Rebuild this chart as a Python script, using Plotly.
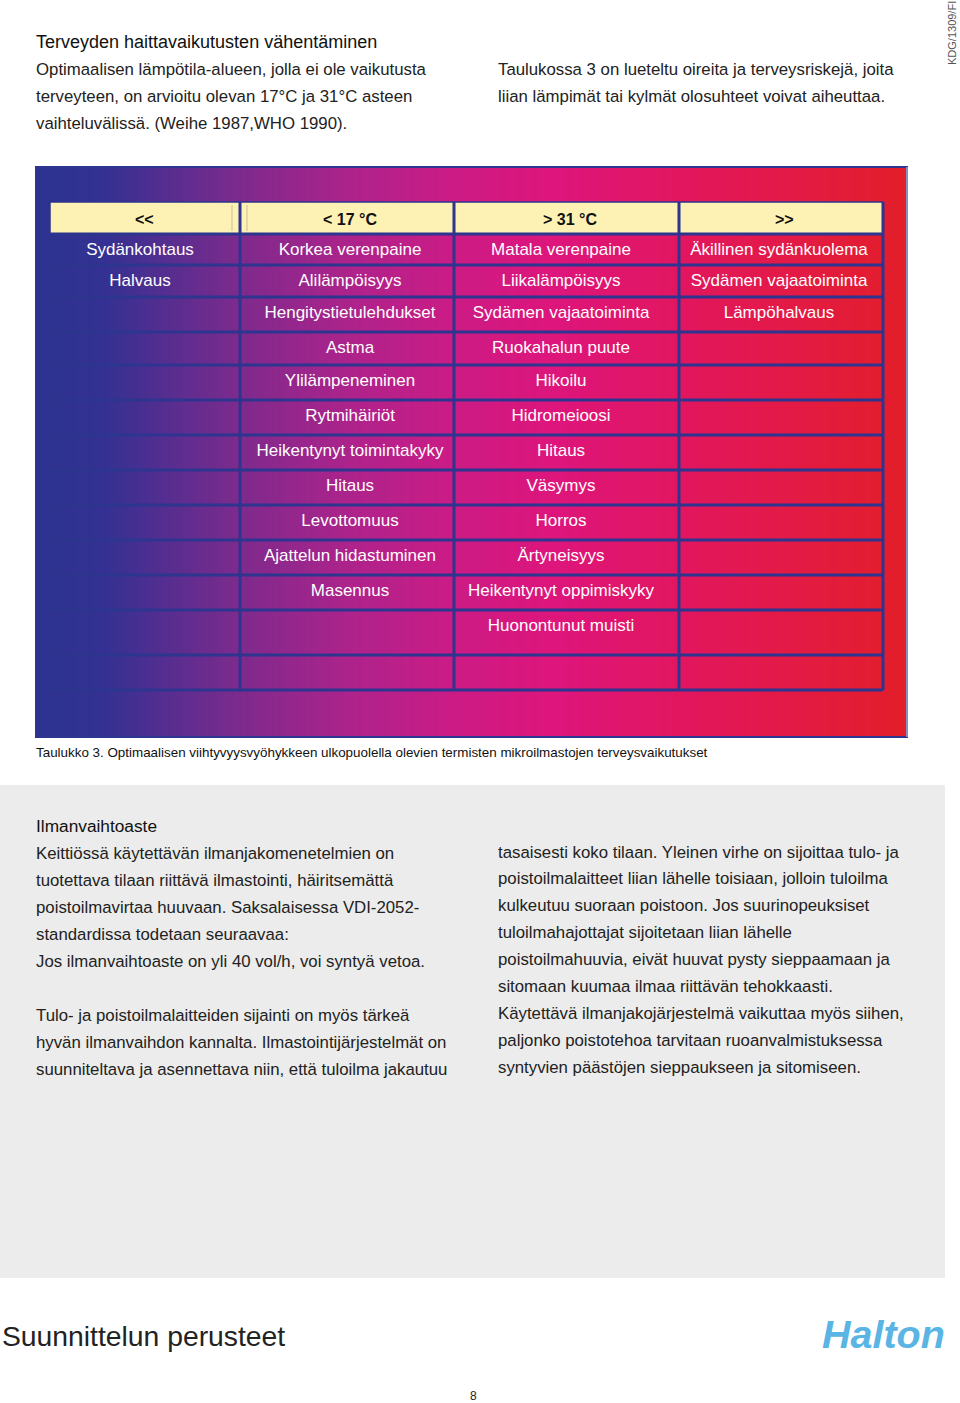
import numpy as np
import plotly.graph_objects as go

# ---------------- data ----------------
headers = ["<<", "< 17 °C", "> 31 °C", ">>"]
col_extreme_cold = ["Sydänkohtaus", "Halvaus"]
col_cold = ["Korkea verenpaine", "Alilämpöisyys", "Hengitystietulehdukset", "Astma",
            "Ylilämpeneminen", "Rytmihäiriöt", "Heikentynyt toimintakyky", "Hitaus",
            "Levottomuus", "Ajattelun hidastuminen", "Masennus"]
col_hot = ["Matala verenpaine", "Liikalämpöisyys", "Sydämen vajaatoiminta", "Ruokahalun puute",
           "Hikoilu", "Hidromeioosi", "Hitaus", "Väsymys", "Horros", "Ärtyneisyys",
           "Heikentynyt oppimiskyky", "Huonontunut muisti"]
col_extreme_hot = ["Äkillinen sydänkuolema", "Sydämen vajaatoiminta", "Lämpöhalvaus"]
columns = [col_extreme_cold, col_cold, col_hot, col_extreme_hot]

top_heading = "Terveyden haittavaikutusten vähentäminen"
top_left_lines = ["Optimaalisen lämpötila-alueen, jolla ei ole vaikutusta",
                  "terveyteen, on arvioitu olevan 17°C ja 31°C asteen",
                  "vaihteluvälissä. (Weihe 1987,WHO 1990)."]
top_right_lines = ["Taulukossa 3 on lueteltu oireita ja terveysriskejä, joita",
                   "liian lämpimät tai kylmät olosuhteet voivat aiheuttaa."]
caption = ("Taulukko 3. Optimaalisen viihtyvyysvyöhykkeen ulkopuolella olevien termisten "
           "mikroilmastojen terveysvaikutukset")
box_heading = "Ilmanvaihtoaste"
box_left_lines = ["Keittiössä käytettävän ilmanjakomenetelmien on",
                  "tuotettava tilaan riittävä ilmastointi, häiritsemättä",
                  "poistoilmavirtaa huuvaan. Saksalaisessa VDI-2052-",
                  "standardissa todetaan seuraavaa:",
                  "Jos ilmanvaihtoaste on yli 40 vol/h, voi syntyä vetoa.",
                  "",
                  "Tulo- ja poistoilmalaitteiden sijainti on myös tärkeä",
                  "hyvän ilmanvaihdon kannalta. Ilmastointijärjestelmät on",
                  "suunniteltava ja asennettava niin, että tuloilma jakautuu"]
box_right_lines = ["tasaisesti koko tilaan. Yleinen virhe on sijoittaa tulo- ja",
                   "poistoilmalaitteet liian lähelle toisiaan, jolloin tuloilma",
                   "kulkeutuu suoraan poistoon. Jos suurinopeuksiset",
                   "tuloilmahajottajat sijoitetaan liian lähelle",
                   "poistoilmahuuvia, eivät huuvat pysty sieppaamaan ja",
                   "sitomaan kuumaa ilmaa riittävän tehokkaasti.",
                   "Käytettävä ilmanjakojärjestelmä vaikuttaa myös siihen,",
                   "paljonko poistotehoa tarvitaan ruoanvalmistuksessa",
                   "syntyvien päästöjen sieppaukseen ja sitomiseen."]
footer_title = "Suunnittelun perusteet"
logo_text = "Halton"
page_number = "8"
doc_code = "KDG/1309/FI"

# ---------------- layout constants ----------------
W, H = 960, 1403
FONT = "Liberation Sans, Arial, sans-serif"
NAVY = "#2d358f"
YELLOW = "#fdf1b3"
table_x = (36, 907)
table_y = (167, 737)
col_edges = [50, 240, 454, 679, 883]
col_text_x = [140, 350, 561, 779]
header_y = (202, 234)
row_edges = [234, 265, 297, 332, 365, 400, 435, 470, 505, 540, 575, 610, 655, 690]

grad_stops = [(0.00, "#2c3390"), (0.08, "#343192"), (0.23, "#7c2a8d"), (0.36, "#ad238b"),
              (0.48, "#cc1b85"), (0.60, "#de157b"), (0.74, "#e2165f"), (0.87, "#e31a45"),
              (1.00, "#e31e28")]

fig = go.Figure()

# gradient background of the table (heatmap on the x scale)
edges = np.linspace(table_x[0], table_x[1], 351)
centers = (edges[:-1] + edges[1:]) / 2
tnorm = (centers - table_x[0]) / (table_x[1] - table_x[0])
fig.add_trace(go.Heatmap(x=edges, y=list(table_y), z=[tnorm], colorscale=[[a, c] for a, c in grad_stops],
                         zmin=0, zmax=1, showscale=False, hoverinfo="skip"))

# cell texts
for ci, col in enumerate(columns):
    ys = [row_edges[i] + 16.5 for i in range(len(col))]
    fig.add_trace(go.Scatter(x=[col_text_x[ci]] * len(col), y=ys, text=col, mode="text",
                             textposition="middle center", hoverinfo="skip",
                             textfont=dict(family=FONT, size=17, color="white")))

shapes = []
# grey box
shapes.append(dict(type="rect", x0=0, x1=945, y0=785, y1=1278, fillcolor="#ebeceb",
                   line=dict(width=0), layer="below"))
# table outline
shapes.append(dict(type="rect", x0=table_x[0], x1=table_x[1], y0=table_y[0], y1=table_y[1],
                   line=dict(color=NAVY, width=2), layer="above"))
shapes.append(dict(type="line", x0=table_x[1], x1=table_x[1], y0=table_y[0], y1=table_y[1],
                   line=dict(color="#9fb3dc", width=1.5), layer="above"))
# header yellow band
shapes.append(dict(type="rect", x0=col_edges[0], x1=col_edges[-1], y0=header_y[0], y1=header_y[1],
                   fillcolor=YELLOW, line=dict(color=NAVY, width=1.5), layer="above"))
for xs in (232, 247):
    shapes.append(dict(type="line", x0=xs, x1=xs, y0=header_y[0] + 3, y1=header_y[1] - 3,
                       line=dict(color="#c9c09b", width=1), layer="above"))
# horizontal grid lines
for y in row_edges:
    shapes.append(dict(type="line", x0=col_edges[0], x1=col_edges[-1], y0=y, y1=y,
                       line=dict(color=NAVY, width=3), layer="above"))
# vertical grid lines
for x in col_edges[1:]:
    shapes.append(dict(type="line", x0=x, x1=x, y0=header_y[0], y1=row_edges[-1],
                       line=dict(color=NAVY, width=3), layer="above"))

ann = []
def txt(x, y, s, size=17, color="#1a1a1a", anchor="left", **kw):
    ann.append(dict(x=x, y=y, xref="x", yref="y", text=s, showarrow=False, xanchor=anchor,
                    yanchor="middle", font=dict(family=FONT, size=size, color=color), **kw))

# header texts
for ci, h in enumerate(headers):
    txt((col_edges[ci] + col_edges[ci + 1]) / 2 + (-1 if ci == 0 else 3), 219, "<b>%s</b>" % h,
        size=16, color="#111111", anchor="center")

LX, RX = 34, 496
# top paragraph
txt(LX, 42, top_heading, size=18, color="#111111")
for i, line in enumerate(top_left_lines):
    txt(LX, 69 + 27 * i, line, size=16.8, color="#222222")
for i, line in enumerate(top_right_lines):
    txt(RX, 69 + 27 * i, line, size=16.8, color="#222222")
txt(952, 33, doc_code, size=11, color="#555555", anchor="center", textangle=-90)

# caption
txt(LX, 752, caption, size=13.4, color="#111111")

# grey box text
txt(LX, 826, box_heading, size=17.3, color="#111111")
for i, line in enumerate(box_left_lines):
    if line:
        txt(LX, 853 + 27 * i, line, size=16.8, color="#222222")
for i, line in enumerate(box_right_lines):
    txt(RX, 852 + 26.9 * i, line, size=16.8, color="#222222")

# footer
txt(0, 1336, footer_title, size=28.3, color="#222222")
txt(883, 1334, "<b><i>%s</i></b>" % logo_text, size=39.5, color="#5ab4e4", anchor="center")
txt(473, 1396, page_number, size=12, color="#222222", anchor="center")

fig.update_layout(
    width=W, height=H, margin=dict(l=0, r=0, t=0, b=0),
    paper_bgcolor="white", plot_bgcolor="white", showlegend=False,
    xaxis=dict(range=[0, W], visible=False, fixedrange=True),
    yaxis=dict(range=[H, 0], visible=False, fixedrange=True),
    shapes=shapes, annotations=ann,
)
fig.write_html("out.html", config={"displayModeBar": False},
               post_script="document.body.style.margin='0';document.body.style.overflow='hidden';")
